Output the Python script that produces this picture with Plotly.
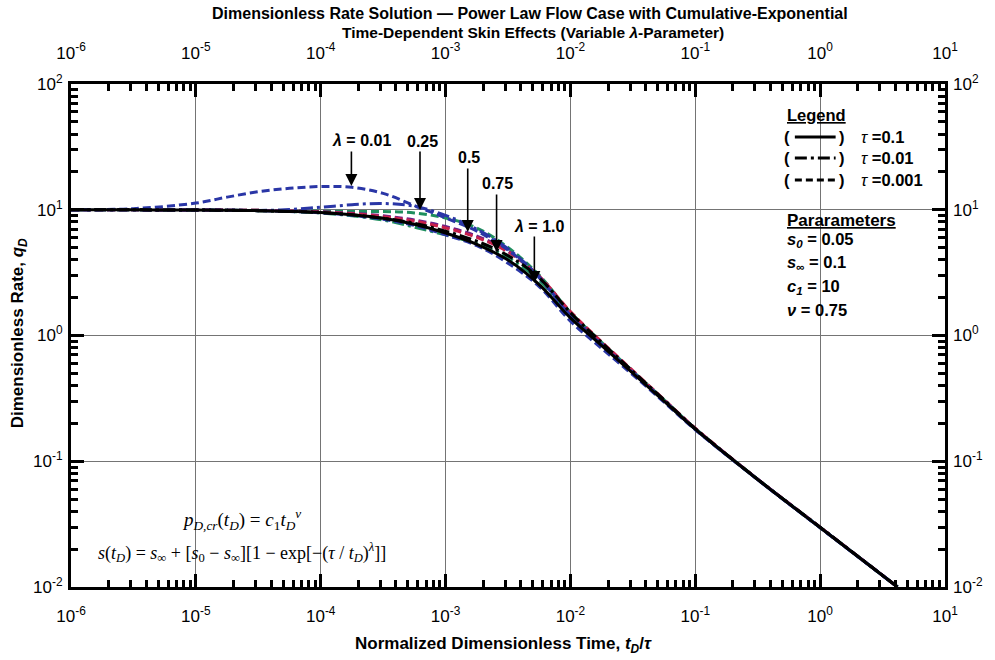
import plotly.graph_objects as go

# ---------------- data ----------------
t_grid = [1e-6, 3.16e-6, 1e-5, 1.78e-5, 3.16e-5, 5.62e-5, 1e-4, 1.78e-4, 3.16e-4, 5.62e-4,
          1e-3, 1.78e-3, 3.16e-3, 5.62e-3, 1e-2, 1.78e-2, 3.16e-2, 5.62e-2, 0.1, 0.316, 1.0, 4.17]

q_black_solid = [10.0, 9.98, 9.95, 9.91, 9.84, 9.70, 9.51, 9.12, 8.55, 7.67, 6.53, 5.31, 3.98, 2.54,
                 1.38, 0.832, 0.501, 0.301, 0.180, 0.0716, 0.0297, 0.0100]
q_black_dashdot = [10.0, 9.98, 9.95, 9.91, 9.84, 9.70, 9.51, 9.12, 8.55, 7.82, 6.76, 5.62, 4.32, 2.88,
                   1.52, 0.878, 0.519, 0.308, 0.182, 0.0719, 0.0299, 0.0100]
q_red_dash = [10.0, 9.98, 9.95, 9.93, 9.89, 9.77, 9.59, 9.29, 8.81, 8.13, 7.16, 6.03, 4.62, 2.95,
              1.55, 0.891, 0.525, 0.310, 0.183, 0.0721, 0.0299, 0.0100]
q_purple_dash = [10.0, 9.98, 9.95, 9.93, 9.89, 9.79, 9.64, 9.38, 8.95, 8.28, 7.35, 6.17, 4.70, 2.95,
                 1.51, 0.875, 0.515, 0.305, 0.181, 0.0718, 0.0298, 0.0100]
q_green_dash = [10.0, 9.98, 9.95, 9.93, 9.89, 9.82, 9.73, 9.70, 9.68, 9.44, 8.61, 7.16, 5.01, 3.02,
                1.53, 0.881, 0.519, 0.308, 0.182, 0.0719, 0.0298, 0.0100]
q_green_dashdot = [10.0, 9.98, 9.95, 9.91, 9.84, 9.68, 9.44, 8.95, 8.28, 7.28, 6.31, 5.37, 4.17, 2.75,
                   1.43, 0.851, 0.507, 0.303, 0.180, 0.0716, 0.0297, 0.0100]
q_blue_dashdot = [10.0, 9.98, 9.95, 9.91, 9.86, 10.05, 10.47, 10.96, 11.22, 10.67, 9.02, 7.00, 4.90, 2.92,
                  1.45, 0.851, 0.511, 0.305, 0.180, 0.0716, 0.0297, 0.0100]
q_blue_dash = [10.0, 10.2, 11.3, 12.6, 13.9, 14.8, 15.3, 15.1, 13.5, 10.8, 8.61, 6.76, 4.79, 2.88,
               1.43, 0.845, 0.507, 0.303, 0.180, 0.0716, 0.0297, 0.0100]
q_blue_low = [10.0, 9.98, 9.95, 9.91, 9.84, 9.68, 9.46, 9.02, 8.41, 7.50, 6.31, 5.19, 3.76, 2.45,
              1.30, 0.790, 0.487, 0.295, 0.178, 0.0713, 0.0296, 0.0100]

x_exponents = [-6, -5, -4, -3, -2, -1, 0, 1]
y_exponents = [-2, -1, 0, 1, 2]

lambda_labels = ["<i>λ</i> = 0.01", "0.25", "0.5", "0.75", "<i>λ</i> = 1.0"]
legend_tau = ["0.1", "0.01", "0.001"]
param_texts = ["<i>s</i><sub><i>0</i></sub> = 0.05", "<i>s</i><sub>∞</sub> = 0.1",
               "<i>c</i><sub><i>1</i></sub> = 10", "<i>ν</i> = 0.75"]

# ---------------- styling ----------------
BLUE = "#2a36a6"
GREEN = "#1f8f5e"
PURPLE = "#6b2088"
RED = "#c8204a"
BLACK = "#000000"
DASH = "8px,4px"
DASHDOT = "12px,4px,3px,4px"
SANS = "Liberation Sans, Arial, sans-serif"
SERIF = "Liberation Serif, Times New Roman, serif"

# plot area in pixels
L, R, T, B = 71, 950, 84, 587
W, H = 995, 660


def px(xp):
    return (xp - L) / (R - L)


def py(yp):
    return (B - yp) / (B - T)


def lx(xp):
    return -6 + 7 * (xp - L) / (R - L)


def ly(yp):
    return 2 - 4 * (yp - T) / (B - T)


fig = go.Figure()

series = [
    (q_green_dashdot, GREEN, DASHDOT),
    (q_green_dash, GREEN, DASH),
    (q_purple_dash, PURPLE, DASH),
    (q_red_dash, RED, DASH),
    (q_blue_low, BLUE, DASH),
    (q_blue_dashdot, BLUE, DASHDOT),
    (q_blue_dash, BLUE, DASH),
    (q_black_dashdot, BLACK, DASHDOT),
    (q_black_solid, BLACK, "solid"),
]
for q, col, dash in series:
    fig.add_trace(go.Scatter(x=t_grid, y=q, mode="lines",
                             line=dict(color=col, width=3, dash=dash, shape="spline", smoothing=1.0),
                             showlegend=False, hoverinfo="skip"))

# invisible trace to activate top/right axes
fig.add_trace(go.Scatter(x=[t_grid[0]], y=[q_black_solid[0]], xaxis="x2", yaxis="y2",
                         mode="markers", marker=dict(opacity=0), showlegend=False, hoverinfo="skip"))

major_x = [10.0 ** e for e in x_exponents]
major_y = [10.0 ** e for e in y_exponents]
minor_x = [m * 10.0 ** e for e in x_exponents[:-1] for m in range(2, 10)]
minor_y = [m * 10.0 ** e for e in y_exponents[:-1] for m in range(2, 10)]
text_x = ["10<sup>%d</sup>" % e for e in x_exponents]
text_y = ["10<sup>%d</sup>" % e for e in y_exponents]

tickfont = dict(family=SANS, size=17, color="black")
minor_x_cfg = dict(tickvals=minor_x, ticks="inside", ticklen=7, tickwidth=2.5, tickcolor="black", showgrid=False)
minor_y_cfg = dict(tickvals=minor_y, ticks="inside", ticklen=7, tickwidth=2.5, tickcolor="black", showgrid=False)

fig.update_layout(
    width=W, height=H,
    margin=dict(l=L, r=W - R, t=T, b=H - B),
    paper_bgcolor="white", plot_bgcolor="white",
    xaxis=dict(type="log", range=[-6, 1], tickvals=major_x, ticktext=text_x,
               showgrid=True, gridcolor="#747474", gridwidth=1, zeroline=False,
               ticks="inside", ticklen=13, tickwidth=3, tickcolor="black",
               showline=True, linewidth=3, linecolor="black", mirror=True,
               minor=minor_x_cfg, tickfont=tickfont, ticklabelstandoff=12),
    yaxis=dict(type="log", range=[-2, 2], tickvals=major_y, ticktext=text_y,
               showgrid=True, gridcolor="#747474", gridwidth=1, zeroline=False,
               ticks="inside", ticklen=13, tickwidth=3, tickcolor="black",
               showline=True, linewidth=3, linecolor="black", mirror=True,
               minor=minor_y_cfg, tickfont=tickfont, ticklabelstandoff=2),
    xaxis2=dict(type="log", range=[-6, 1], overlaying="x", side="top", anchor="y",
                tickvals=major_x, ticktext=text_x, showgrid=False, zeroline=False,
                ticks="inside", ticklen=13, tickwidth=3, tickcolor="black",
                minor=minor_x_cfg, tickfont=tickfont, ticklabelstandoff=21),
    yaxis2=dict(type="log", range=[-2, 2], overlaying="y", side="right", anchor="x",
                tickvals=major_y, ticktext=text_y, showgrid=False, zeroline=False,
                ticks="inside", ticklen=13, tickwidth=3, tickcolor="black",
                minor=minor_y_cfg, tickfont=tickfont, ticklabelstandoff=7),
)

# title (two centred lines)
fig.add_annotation(xref="paper", yref="paper", x=px(533), y=py(13), showarrow=False,
                   xanchor="center", yanchor="middle",
                   text="<b>Dimensionless Rate Solution — Power Law Flow Case with Cumulative-Exponential</b>",
                   font=dict(family=SANS, size=16, color="black"))
fig.add_annotation(xref="paper", yref="paper", x=px(536), y=py(33), showarrow=False,
                   xanchor="center", yanchor="middle",
                   text="<b>Time-Dependent Skin Effects (Variable <i>λ</i>-Parameter)</b>",
                   font=dict(family=SANS, size=15.5, color="black"))

# white boxes behind legend text and formula (hide grid lines)
fig.add_shape(type="rect", xref="paper", yref="paper", x0=px(781), x1=px(944), y0=py(330), y1=py(90),
              fillcolor="white", line=dict(width=0), layer="between")
fig.add_shape(type="rect", xref="paper", yref="paper", x0=px(95), x1=px(442), y0=py(576), y1=py(497),
              fillcolor="white", line=dict(width=0), layer="between")

# axis titles
fig.add_annotation(xref="paper", yref="paper", x=px(506), y=py(645), showarrow=False,
                   text="<b>Normalized Dimensionless Time, <i>t</i><sub><i>D</i></sub>/<i>τ</i></b>",
                   font=dict(family=SANS, size=17, color="black"), xanchor="center", yanchor="middle")
fig.add_annotation(xref="paper", yref="paper", x=px(19), y=py(333), showarrow=False, textangle=-90,
                   text="<b>Dimensionless Rate, <i>q</i><sub><i>D</i></sub></b>",
                   font=dict(family=SANS, size=17, color="black"), xanchor="center", yanchor="middle")

# lambda labels with arrows
label_pos = [(363, 140), (425, 141), (471, 157), (500, 183), (542, 226)]
arrow_tip = [(353, 186), (422, 210), (470, 232), (499, 252), (537, 283)]
arrow_tail = [150, 150, 167, 193, 235]
for lab, (tx, ty), (ax_, ay_), tail in zip(lambda_labels, label_pos, arrow_tip, arrow_tail):
    fig.add_annotation(x=lx(tx), y=ly(ty), text="<b>%s</b>" % lab, showarrow=False,
                       font=dict(family=SANS, size=16, color="black"), xanchor="center", yanchor="middle")
    fig.add_annotation(x=lx(ax_), y=ly(ay_), text="", showarrow=True, arrowhead=2, arrowsize=1.5,
                       arrowwidth=1.6, arrowcolor="black", ax=0, ay=tail - ay_, axref="pixel", ayref="pixel")

# legend block
fig.add_annotation(xref="paper", yref="paper", x=px(789), y=py(115), showarrow=False,
                   xanchor="left", yanchor="middle",
                   text="<b><u>Legend</u></b>", font=dict(family=SANS, size=16.5, color="black"))
row_y = [137, 158, 180]
row_dash = ["solid", "12px,4px,3px,4px", "7px,4px"]
for tau, yy, dsh in zip(legend_tau, row_y, row_dash):
    fig.add_annotation(xref="paper", yref="paper", x=px(791), y=py(yy), showarrow=False,
                       xanchor="center", yanchor="middle",
                       text="<b>(</b>", font=dict(family=SANS, size=16.5, color="black"))
    fig.add_annotation(xref="paper", yref="paper", x=px(846), y=py(yy), showarrow=False,
                       xanchor="center", yanchor="middle",
                       text="<b>)</b>", font=dict(family=SANS, size=16.5, color="black"))
    fig.add_shape(type="line", xref="paper", yref="paper", x0=px(799), x1=px(840), y0=py(yy), y1=py(yy),
                  line=dict(color="black", width=3, dash=dsh))
    fig.add_annotation(xref="paper", yref="paper", x=px(864), y=py(yy), showarrow=False,
                       xanchor="left", yanchor="middle",
                       text="<i>τ</i><b> =%s</b>" % tau, font=dict(family=SANS, size=16.5, color="black"))

fig.add_annotation(xref="paper", yref="paper", x=px(789), y=py(220), showarrow=False,
                   xanchor="left", yanchor="middle",
                   text="<b><u>Pararameters</u></b>", font=dict(family=SANS, size=17, color="black"))
for txt, yy in zip(param_texts, [240, 263, 287, 310]):
    fig.add_annotation(xref="paper", yref="paper", x=px(789), y=py(yy), showarrow=False,
                       xanchor="left", yanchor="middle",
                       text="<b>%s</b>" % txt, font=dict(family=SANS, size=16.5, color="black"))

# formulas
fig.add_annotation(xref="paper", yref="paper", x=px(242), y=py(519), showarrow=False,
                   xanchor="center", yanchor="middle",
                   text="<i>p</i><sub><i>D,cr</i></sub>(<i>t</i><sub><i>D</i></sub>) = <i>c</i><sub>1</sub><i>t</i><sub><i>D</i></sub><sup><i>ν</i></sup>",
                   font=dict(family=SERIF, size=19, color="black"))
fig.add_annotation(xref="paper", yref="paper", x=px(243), y=py(552), showarrow=False,
                   xanchor="center", yanchor="middle",
                   text="<i>s</i>(<i>t</i><sub><i>D</i></sub>) = <i>s</i><sub>∞</sub> + [<i>s</i><sub>0</sub> − <i>s</i><sub>∞</sub>][1 − exp[−(<i>τ</i> / <i>t</i><sub><i>D</i></sub>)<sup><i>λ</i></sup>]]",
                   font=dict(family=SERIF, size=18, color="black"))

fig.write_html("out.html")
